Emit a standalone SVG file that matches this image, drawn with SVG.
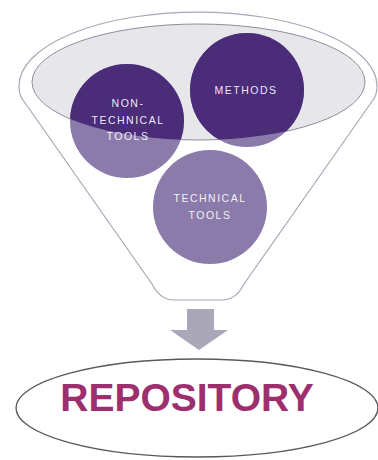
<svg xmlns="http://www.w3.org/2000/svg" width="378" height="460" viewBox="0 0 378 460">
  <style>
    .outline { fill: #ffffff; stroke: #a9a6b6; stroke-width: 1.2; }
    .bowl { fill: #e7e6eb; stroke: #8f8c9e; stroke-width: 1; }
    .light { fill: #8b7bab; }
    .dark { fill: #4a2c78; }
    .lbl { font-family: "Liberation Sans", Arial, sans-serif; font-size: 10.5px; fill: #ffffff; fill-opacity: 0.92; text-anchor: middle; letter-spacing: 1.5px; }
    .repo { font-family: "Liberation Sans", Arial, sans-serif; font-size: 39px; font-weight: bold; fill: #9d2f6e; text-anchor: middle; }
  </style>
  <defs>
    <clipPath id="bowlClip">
      <ellipse cx="198.5" cy="82" rx="166.5" ry="58"/>
    </clipPath>
  </defs>

  <g id="funnel">
    <path class="outline" d="M 19,86 A 179 74 0 0 1 377,86 Q 377,95 373,100 L 244,284 Q 236,300 222,300 L 174,300 Q 160,300 152,284 L 23,100 Q 19,95 19,86 Z"/>
    <ellipse class="bowl" cx="198.5" cy="82" rx="166.5" ry="58"/>
  </g>

  <g id="node-non-technical-tools">
    <circle class="light" cx="127" cy="121" r="57"/>
    <circle class="dark" cx="127" cy="121" r="57" clip-path="url(#bowlClip)"/>
    <text class="lbl" x="128" y="107">NON-</text>
    <text class="lbl" x="128" y="124">TECHNICAL</text>
    <text class="lbl" x="128" y="140">TOOLS</text>
  </g>

  <g id="node-methods">
    <circle class="light" cx="247" cy="90" r="57"/>
    <circle class="dark" cx="247" cy="90" r="57" clip-path="url(#bowlClip)"/>
    <text class="lbl" x="246" y="94">METHODS</text>
  </g>

  <g id="node-technical-tools">
    <circle class="light" cx="210" cy="207" r="57"/>
    <text class="lbl" x="210" y="202">TECHNICAL</text>
    <text class="lbl" x="210" y="219">TOOLS</text>
  </g>

  <g id="connectors">
    <path d="M 187,309 L 214,309 L 214,330 L 228,330 L 199,350 L 170,330 L 187,330 Z" fill="#aaa7b9"/>
  </g>

  <g id="node-repository">
    <ellipse cx="197" cy="408" rx="181" ry="49" fill="#ffffff" stroke="#5a5860" stroke-width="1.4"/>
    <text class="repo" x="187" y="411">REPOSITORY</text>
  </g>
</svg>
